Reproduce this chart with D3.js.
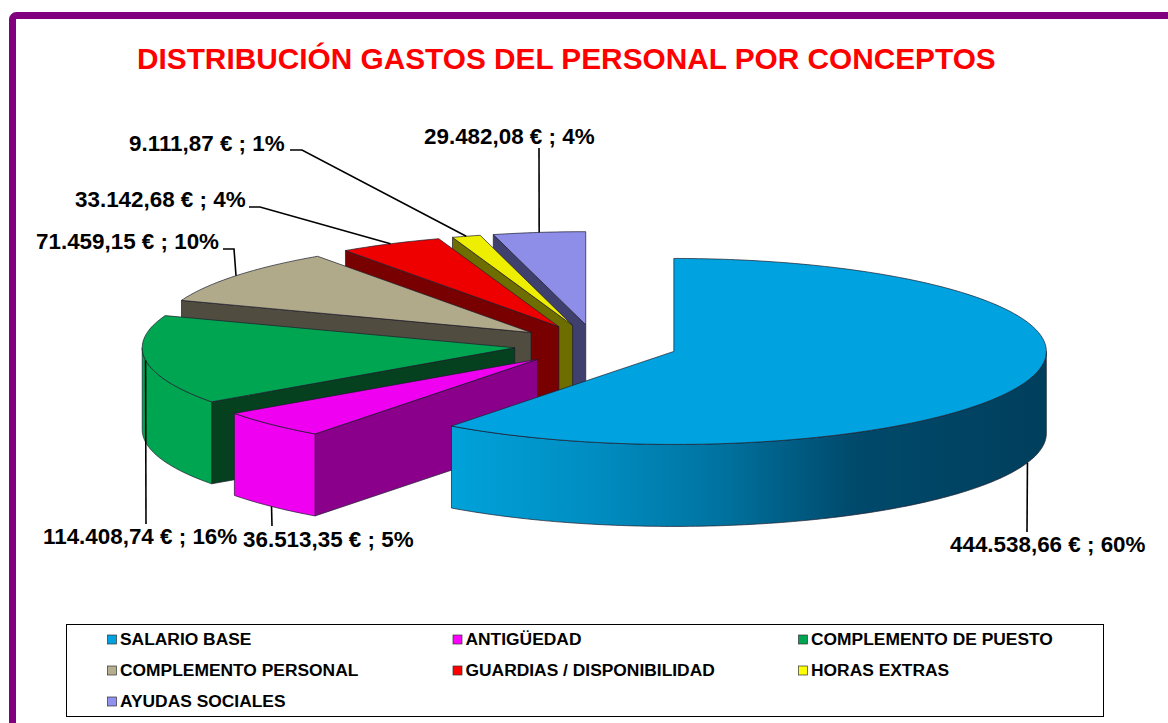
<!DOCTYPE html>
<html>
<head>
<meta charset="utf-8">
<script src="https://cdn.jsdelivr.net/npm/d3@7"></script>
<style>
  html, body { margin: 0; padding: 0; background: #fff; }
  svg { display: block; }
  text { font-family: "Liberation Sans", Arial, sans-serif; font-weight: bold; }
</style>
</head>
<body>
<div id="chart"></div>
<script>
const categories = ["SALARIO BASE", "ANTIGÜEDAD", "COMPLEMENTO DE PUESTO", "COMPLEMENTO PERSONAL",
  "GUARDIAS / DISPONIBILIDAD", "HORAS EXTRAS", "AYUDAS SOCIALES"];
const values = [444538.66, 36513.35, 114408.74, 71459.15, 33142.68, 9111.87, 29482.08];
const percents = [60, 5, 16, 10, 4, 1, 4];
const topColors = ["#00a3e0", "#f000f0", "#00a551", "#b0aa8b", "#ee0000", "#eeee00", "#8e8ee9"];
const sideColors = ["#003f5c", "#8b008b", "#05401f", "#504c3f", "#780000", "#6e6e00", "#40406f"];
const legendColors = ["#00a3e0", "#ff00ff", "#00a551", "#b5ae8f", "#ff0000", "#ffff00", "#9090ee"];

const width = 1168, height = 723;
const cx = 596, cy = 345;          // pie centre before the slices are pulled out
const rx = 372.5, ry = 93, depth = 82;
const explode = 82;

// where each label sits and where its leader line bends
const labelPos = [[950, 552], [243, 547], [43, 544], [36, 249], [75, 207], [129, 151], [424, 144]];
const leaderBend = [[[1027, 532]], [[272, 526]], [[146, 524]], [[223, 249], [234, 249]],
  [[249, 207], [260, 207]], [[290, 150], [302, 150]], [[539, 148]]];
const leaderOnWall = [true, true, false, false, false, false, false];

const svg = d3.select("#chart").append("svg").attr("width", width).attr("height", height);
const defs = svg.append("defs");

// curved wall of the big slice goes dark towards the right
const grad = defs.append("linearGradient").attr("id", "wall0")
  .attr("gradientUnits", "userSpaceOnUse")
  .attr("x1", 451).attr("x2", 1046).attr("y1", 0).attr("y2", 0);
[[0, "#00a2da"], [0.25, "#008cc0"], [0.45, "#0073a0"], [0.68, "#00496b"], [1, "#003f5c"]].forEach(s => {
  grad.append("stop").attr("offset", s[0]).attr("stop-color", s[1]);
});

// frame, runs off the right and the bottom of the picture
svg.append("rect").attr("x", 12.5).attr("y", 15.5).attr("width", 1400).attr("height", 1000)
  .attr("rx", 4).attr("fill", "#fff").attr("stroke", "#800080").attr("stroke-width", 7);

svg.append("text").attr("x", 137).attr("y", 69).attr("fill", "#ff0000").attr("font-size", 29.8)
  .text("DISTRIBUCIÓN GASTOS DEL PERSONAL POR CONCEPTOS");

const slices = d3.pie().sort(null).value(d => d)(values);

function rim(a, c) {
  return [c[0] + rx * Math.sin(a), c[1] - ry * Math.cos(a)];
}
function sliceCentre(d) {
  const mid = (d.startAngle + d.endAngle) / 2;
  return [cx + explode * Math.sin(mid), cy - explode * ry / rx * Math.cos(mid)];
}
function arcPoints(a0, a1, c) {
  const n = Math.max(2, Math.ceil((a1 - a0) * 60));
  return d3.range(n + 1).map(i => rim(a0 + (a1 - a0) * i / n, c));
}
const line = d3.line();
const down = p => [p[0], p[1] + depth];

const pieGroup = svg.append("g").attr("stroke", "#1c1c2c").attr("stroke-width", 0.7)
  .attr("stroke-linejoin", "round");

// back slices first, the big one is on top of all
d3.reverse(slices).forEach(d => {
  const i = d.index, c = sliceCentre(d);
  const g = pieGroup.append("g");

  if (Math.sin(d.startAngle) < -1e-6) {
    const p = rim(d.startAngle, c);
    g.append("path").attr("fill", sideColors[i])
      .attr("d", line([c, p, down(p), down(c)]) + "Z");
  }
  const a0 = Math.max(d.startAngle, Math.PI / 2), a1 = Math.min(d.endAngle, 3 * Math.PI / 2);
  if (a1 > a0) {
    const pts = arcPoints(a0, a1, c);
    g.append("path").attr("fill", i === 0 ? "url(#wall0)" : topColors[i])
      .attr("d", line(pts.concat(pts.slice().reverse().map(down))) + "Z");
  }
  g.append("path").attr("fill", topColors[i])
    .attr("d", line([c].concat(arcPoints(d.startAngle, d.endAngle, c))) + "Z");
});

const labelGroup = svg.append("g");
const money = d3.formatLocale({ decimal: ",", thousands: ".", grouping: [3], currency: ["", " €"] }).format(",.2f");

slices.forEach(d => {
  const i = d.index, c = sliceCentre(d);
  let anchor = rim((d.startAngle + d.endAngle) / 2, c);
  if (leaderOnWall[i]) anchor = down(anchor);
  labelGroup.append("path").attr("fill", "none").attr("stroke", "#000").attr("stroke-width", 1.6)
    .attr("d", line(leaderBend[i].concat([anchor])));
  labelGroup.append("text").attr("x", labelPos[i][0]).attr("y", labelPos[i][1])
    .attr("font-size", 22.4).attr("fill", "#000")
    .text(money(values[i]) + " € ; " + percents[i] + "%");
});

// legend
svg.append("rect").attr("x", 66.5).attr("y", 624.5).attr("width", 1037).attr("height", 92)
  .attr("fill", "#fff").attr("stroke", "#000").attr("stroke-width", 1);

const colX = d3.scalePoint().domain([0, 1, 2]).range([107, 798]);
const rowY = d3.scalePoint().domain([0, 1, 2]).range([639, 701]);
const legend = svg.append("g").selectAll("g").data(categories).enter().append("g")
  .attr("transform", (d, i) => "translate(" + colX(i % 3) + "," + rowY(Math.floor(i / 3)) + ")");
legend.append("rect").attr("x", 0.5).attr("y", -4).attr("width", 9).attr("height", 9)
  .attr("fill", (d, i) => legendColors[i]).attr("stroke", "#333").attr("stroke-width", 0.7);
legend.append("text").attr("x", 13).attr("y", 6).attr("font-size", 17.4).attr("fill", "#000")
  .text(d => d);
</script>
</body>
</html>
